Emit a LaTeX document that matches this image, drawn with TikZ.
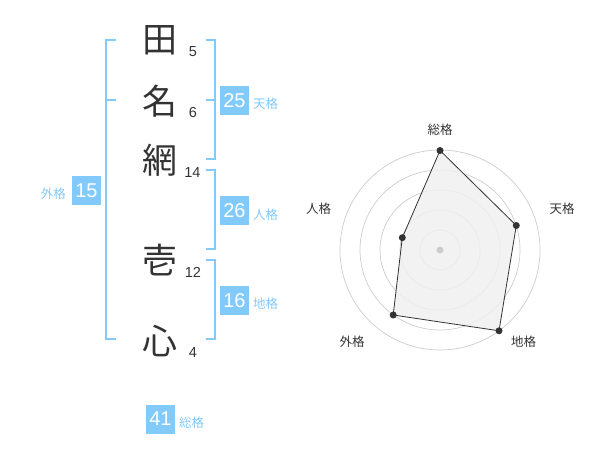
\documentclass[tikz,border=0pt]{standalone}
\usepackage{fontspec}
\setmainfont{Liberation Sans}
\newfontfamily\cjk{Noto Sans CJK JP}
\definecolor{kblue}{RGB}{130,202,250}
\definecolor{kdark}{RGB}{51,51,51}
\definecolor{kgrid}{RGB}{204,204,204}
\definecolor{kfill}{RGB}{240,240,240}
\tikzset{
  kanji/.style={inner sep=0pt, text=kdark, font=\cjk\fontsize{35}{36}\selectfont},
  stroke/.style={inner sep=0pt, text=kdark, font=\fontsize{14.5}{16}\selectfont},
  bracketline/.style={draw=kblue, line width=2pt},
  scorebox/.style={fill=kblue, text=white, minimum width=28.5pt, minimum height=29pt, inner sep=0pt, font=\fontsize{20}{22}\selectfont},
  scorelabel/.style={text=kblue, inner sep=0pt, font=\cjk\fontsize{12.5}{14}\selectfont},
  gridring/.style={draw=kgrid, line width=0.7pt},
  axislabel/.style={text=kdark, inner sep=0pt, font=\cjk\fontsize{12.5}{14}\selectfont},
  dot/.style={circle, fill=kdark, inner sep=0pt, minimum size=7pt},
}
\begin{document}
\begin{tikzpicture}[x=1pt,y=-1pt]
\useasboundingbox (0,0) rectangle (600,470);
% kanji
\node[kanji] (k1) at (160,40.5) {田};
\node[kanji] (k2) at (160,101.5) {名};
\node[kanji] (k3) at (160,160) {網};
\node[kanji] (k4) at (160,260) {壱};
\node[kanji] (k5) at (160,341.5) {心};
% strokes
\node[stroke] (s1) at (193,52) {5};
\node[stroke] (s2) at (193,113) {6};
\node[stroke] (s3) at (192.5,173) {14};
\node[stroke] (s4) at (193,272.5) {12};
\node[stroke] (s5) at (193,353) {4};
% left bracket (gaikaku)
\draw[bracketline] (116,40) -- (106,40) -- (106,339.5) -- (116,339.5);
\draw[bracketline] (106,100) -- (116,100);
% right brackets
\draw[bracketline] (205.5,40) -- (214.5,40) -- (214.5,159.5) -- (205.5,159.5);
\draw[bracketline] (205.5,100) -- (214.5,100);
\draw[bracketline] (205.5,170) -- (214.5,170) -- (214.5,249.5) -- (205.5,249.5);
\draw[bracketline] (205.5,260) -- (214.5,260) -- (214.5,339.5) -- (205.5,339.5);
% score boxes
\node[scorebox] (b25) at (234.5,100.5) {25};
\node[scorelabel, anchor=west] (l25) at (253,104) {天格};
\node[scorebox] (b26) at (234.5,210.5) {26};
\node[scorelabel, anchor=west] (l26) at (253,214.5) {人格};
\node[scorebox] (b16) at (234.5,300.5) {16};
\node[scorelabel, anchor=west] (l16) at (253,304) {地格};
\node[scorebox] (b15) at (86.5,190.5) {15};
\node[scorelabel, anchor=east] (l15) at (66,194) {外格};
\node[scorebox] (b41) at (160.5,419) {41};
\node[scorelabel, anchor=west] (l41) at (179,422.5) {総格};
% radar
\coordinate (c) at (440,250);
\foreach \r in {20,40,60,80,100} \draw[gridring] (c) circle[radius=\r];
\coordinate (p1) at (440,150.5);
\coordinate (p2) at (516.3,225.5);
\coordinate (p3) at (499,330.8);
\coordinate (p4) at (393.2,315);
\coordinate (p5) at (402.3,237.7);
\fill[kfill, opacity=0.85] (p1) -- (p2) -- (p3) -- (p4) -- (p5) -- cycle;
\fill[kgrid] (c) circle[radius=3.5];
\draw[kdark, line width=0.8pt] (p1) -- (p2) -- (p3) -- (p4) -- (p5) -- cycle;
\foreach \p in {p1,p2,p3,p4,p5} \node[dot] at (\p) {};
\node[axislabel] (a1) at (440,130) {総格};
\node[axislabel] (a2) at (562,208.5) {天格};
\node[axislabel] (a3) at (523.5,342) {地格};
\node[axislabel] (a4) at (352,342) {外格};
\node[axislabel] (a5) at (318.5,208.5) {人格};
\end{tikzpicture}
\end{document}
